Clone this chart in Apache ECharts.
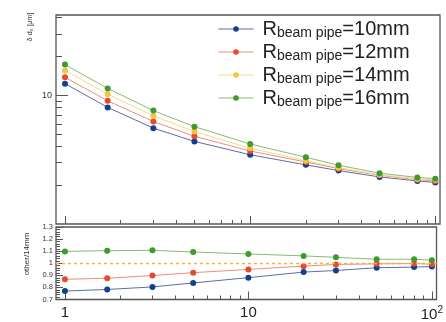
<!DOCTYPE html>
<html>
<head>
<meta charset="utf-8">
<script src="https://cdn.jsdelivr.net/npm/echarts@6/dist/echarts.min.js"></script>
<style>html,body{margin:0;padding:0;background:#fff}#c{width:446px;height:322px}</style>
</head>
<body>
<div id="c"></div>
<script>
// ---- data ----
const xValues = [1, 1.7, 3, 5, 10, 20, 30, 50, 80, 100];
const d0_10 = [12.3, 8.05, 5.55, 4.38, 3.45, 2.88, 2.6, 2.32, 2.16, 2.1];
const d0_12 = [13.8, 9.05, 6.25, 4.8, 3.69, 3.03, 2.69, 2.39, 2.21, 2.16];
const d0_14 = [15.6, 10.2, 6.92, 5.22, 3.88, 3.1, 2.74, 2.41, 2.24, 2.2];
const d0_16 = [17.3, 11.3, 7.6, 5.7, 4.18, 3.3, 2.86, 2.48, 2.3, 2.25];
const ratio10 = [0.77, 0.783, 0.804, 0.837, 0.881, 0.927, 0.94, 0.963, 0.968, 0.973];
const ratio12 = [0.867, 0.876, 0.898, 0.922, 0.949, 0.976, 0.99, 0.995, 0.998, 0.992];
const ratio16 = [1.098, 1.104, 1.107, 1.093, 1.077, 1.061, 1.049, 1.033, 1.033, 1.025];
const ratioRef = 1;
const seriesNames = ['R10', 'R12', 'R14', 'R16'];
const legendTexts = ['=10mm', '=12mm', '=14mm', '=16mm'];
const xMajorTicks = [1, 10, 100];
const xMinorTicks = [2,3,4,5,6,7,8,9,20,30,40,50,60,70,80,90];
const yMajorTicks = [10];
const yMinorTicks = [2,3,4,5,6,7,8,9,20,30,40];
const yTitle = 'δ d₀ [μm]';
const ratioTitle = 'other/14mm';

const markerColors = ['#123f92', '#e8482c', '#f6c443', '#3d9a2d'];
const lineColors = ['#5a6fa6', '#ec8f78', '#f5d98c', '#86bb74'];

const pairs = arr => arr.map((v, i) => [xValues[i], v]);
const font = 'Liberation Sans, Arial, sans-serif';
const frame = '#555';

function xAxisPair(gridIndex, showLabels) {
  return [
    { type: 'log', gridIndex, position: 'bottom', offset: 0, min: 0.894, max: 106, logBase: 10,
      axisLine: { show: false }, splitLine: { show: false },
      axisTick: { show: true, inside: true, length: 8, customValues: xMajorTicks, lineStyle: { color: frame } },
      axisLabel: { show: showLabels, customValues: xMajorTicks, margin: 6, fontFamily: font, fontSize: 15, color: '#222',
        formatter: v => v >= 100 ? '10{sup|2}' : String(v),
        rich: { sup: { fontSize: 10, fontFamily: font, color: '#222', verticalAlign: 'top', padding: [0,0,8,0] } } } },
    { type: 'log', gridIndex, position: 'bottom', offset: 0, min: 0.894, max: 106, logBase: 10,
      axisLine: { show: false }, splitLine: { show: false }, axisLabel: { show: false },
      axisTick: { show: true, inside: true, length: 4, customValues: xMinorTicks, lineStyle: { color: frame } } }
  ];
}

const option = {
  animation: false,
  grid: [
    { left: 56, right: 6, top: 15, height: 209, show: true, borderColor: frame, borderWidth: 1.3, backgroundColor: 'transparent' },
    { left: 56, right: 6, top: 227, height: 74, show: true, borderColor: frame, borderWidth: 1.3, backgroundColor: 'transparent' }
  ],
  xAxis: [].concat(xAxisPair(0, false), xAxisPair(1, true)),
  yAxis: [
    { type: 'log', gridIndex: 0, position: 'left', offset: 0, min: 1, max: 42, logBase: 10,
      axisLine: { show: false }, splitLine: { show: false },
      axisTick: { show: true, inside: true, length: 12, customValues: yMajorTicks, lineStyle: { color: frame } },
      axisLabel: { customValues: yMajorTicks, margin: 4, fontFamily: font, fontSize: 9, color: '#333' } },
    { type: 'log', gridIndex: 0, position: 'left', offset: 0, min: 1, max: 42, logBase: 10,
      axisLine: { show: false }, splitLine: { show: false }, axisLabel: { show: false },
      axisTick: { show: true, inside: true, length: 6, customValues: yMinorTicks, lineStyle: { color: frame } } },
    { type: 'value', gridIndex: 1, position: 'left', offset: 0, min: 0.7, max: 1.3, interval: 0.1,
      axisLine: { show: false }, splitLine: { show: false },
      axisTick: { show: true, inside: true, length: 7, lineStyle: { color: frame } },
      minorTick: { show: true, splitNumber: 5, length: 4, lineStyle: { color: frame } },
      axisLabel: { margin: 3, fontFamily: font, fontSize: 7.5, color: '#333', formatter: v => String(Math.round(v*10)/10) } }
  ],
  legend: {
    orient: 'vertical', left: 218, top: 19, padding: 0, itemGap: 2,
    itemWidth: 35, itemHeight: 7,
    data: seriesNames,
    lineStyle: { width: 1 },
    formatter: name => '{r|R}{s|beam pipe}{t|' + legendTexts[seriesNames.indexOf(name)] + '}',
    textStyle: {
      padding: [0, 0, 0, 4],
      rich: {
        r: { fontFamily: font, fontSize: 20, color: '#222', lineHeight: 22 },
        s: { fontFamily: font, fontSize: 14, color: '#222', lineHeight: 11, verticalAlign: 'bottom' },
        t: { fontFamily: font, fontSize: 20, color: '#222', lineHeight: 22 }
      }
    }
  },
  graphic: [
    { type: 'text', x: 30, y: 27, rotation: Math.PI / 2,
      style: { text: yTitle, fontFamily: font, fontSize: 7, fill: '#333', align: 'center', verticalAlign: 'middle' } },
    { type: 'text', x: 27, y: 254, rotation: Math.PI / 2,
      style: { text: ratioTitle, fontFamily: font, fontSize: 8, fill: '#333', align: 'center', verticalAlign: 'middle' } }
  ],
  series: [
    ...[d0_10, d0_12, d0_14, d0_16].map((arr, i) => ({
      name: seriesNames[i], type: 'line', xAxisIndex: 0, yAxisIndex: 0,
      data: pairs(arr), symbol: 'circle', symbolSize: 6,
      itemStyle: { color: markerColors[i] },
      lineStyle: { color: lineColors[i], width: 1 }
    })),
    ...[[ratio10, 0], [ratio12, 1], [ratio16, 3]].map(([arr, i]) => ({
      name: 'ratio' + seriesNames[i], type: 'line', xAxisIndex: 2, yAxisIndex: 2,
      data: pairs(arr), symbol: 'circle', symbolSize: 6,
      itemStyle: { color: markerColors[i] },
      lineStyle: { color: lineColors[i], width: 1 }
    })),
    { name: 'ratioR14', type: 'line', xAxisIndex: 2, yAxisIndex: 2, data: [],
      itemStyle: { color: '#f0b830' }, lineStyle: { color: '#f0b830' },
      markLine: { silent: true, symbol: 'none', label: { show: false },
        emphasis: { disabled: true },
        lineStyle: { color: '#f0b830', type: [3, 3], width: 1.4, opacity: 1 },
        data: [{ yAxis: ratioRef }] } }
  ]
};
const chart = echarts.init(document.getElementById('c'), null, { renderer: 'canvas' });
chart.setOption(option);
</script>
</body>
</html>
